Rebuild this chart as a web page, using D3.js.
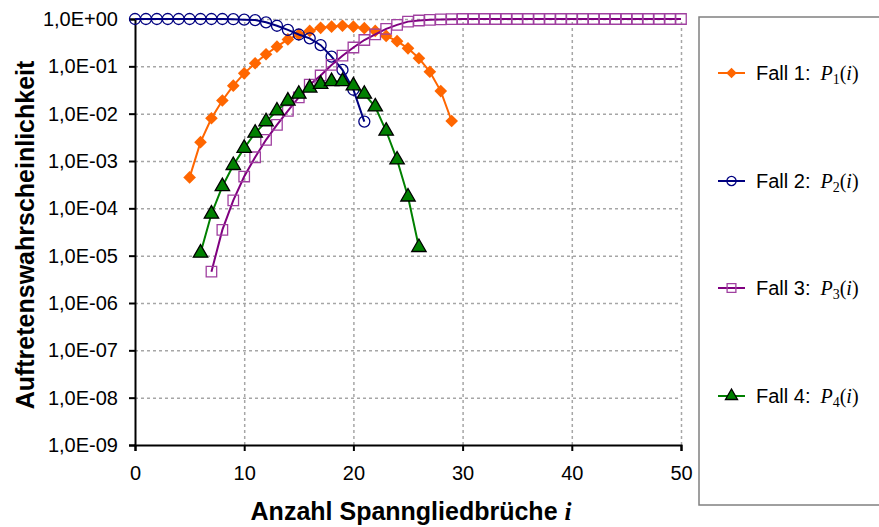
<!DOCTYPE html>
<html>
<head>
<meta charset="utf-8">
<script src="https://d3js.org/d3.v7.min.js"></script>
<style>
  body { margin: 0; background: #fff; }
  .grid line { stroke: #a6a6a6; stroke-width: 1.5; stroke-dasharray: 3,3; }
  .grid path { display: none; }
  .axis text { font-family: "Liberation Sans", Arial, sans-serif; font-size: 20px; fill: #000; }
  .axis path, .axis line { stroke: #000; stroke-width: 2; }
</style>
</head>
<body>
<div id="chart"></div>
<script>
// data
const i1 = [5,6,7,8,9,10,11,12,13,14,15,16,17,18,19,20,21,22,23,24,25,26,27,28,29];
const p1 = [4.5e-4,2.5e-3,8.0e-3,1.9e-2,3.9e-2,7.1e-2,0.116,0.18,0.26,0.37,0.47,0.56,0.65,0.69,0.72,0.69,0.64,0.56,0.44,0.34,0.24,0.148,0.077,0.030,7.0e-3];

const i2 = [0,1,2,3,4,5,6,7,8,9,10,11,12,13,14,15,16,17,18,19,20,21];
const p2 = [1,1,1,1,1,1,1,1,1,0.99,0.97,0.95,0.85,0.72,0.59,0.47,0.39,0.28,0.16,0.084,0.032,6.8e-3];

const i3 = [7,8,9,10,11,12,13,14,15,16,17,18,19,20,21,22,23,24,25,26,27,28,29,30,31,32,33,34,35,36,37,38,39,40,41,42,43,44,45,46,47,48,49,50];
const p3 = [4.6e-6,3.5e-5,1.47e-4,4.7e-4,1.2e-3,2.8e-3,5.8e-3,0.0115,0.022,0.041,0.064,0.107,0.168,0.25,0.36,0.475,0.62,0.75,0.88,0.93,0.96,0.98,0.99,1,1,1,1,1,1,1,1,1,1,1,1,1,1,1,1,1,1,1,1,1];

const i4 = [6,7,8,9,10,11,12,13,14,15,16,17,18,19,20,21,22,23,24,25,26];
const p4 = [1.14e-5,7.6e-5,2.9e-4,8.1e-4,1.87e-3,3.9e-3,6.8e-3,0.0115,0.0186,0.026,0.035,0.042,0.048,0.048,0.039,0.026,0.014,4.3e-3,1.06e-3,1.75e-4,1.5e-5];

const seriesNames = ["Fall 1:", "Fall 2:", "Fall 3:", "Fall 4:"];
const seriesSubs = ["1", "2", "3", "4"];

const xTicks = [0, 10, 20, 30, 40, 50];
const yTicks = [1e-9,1e-8,1e-7,1e-6,1e-5,1e-4,1e-3,1e-2,1e-1,1];
const yTickLabels = ["1,0E-09","1,0E-08","1,0E-07","1,0E-06","1,0E-05","1,0E-04","1,0E-03","1,0E-02","1,0E-01","1,0E+00"];

const WIDTH = 879, HEIGHT = 527;
const plot = {left: 135, right: 681, top: 19, bottom: 445};

const xScale = d3.scaleLinear().domain([0, 50]).range([plot.left, plot.right]);
const yScale = d3.scaleLog().domain([1e-9, 1]).range([plot.bottom, plot.top]);

const svg = d3.select("#chart").append("svg")
    .attr("width", WIDTH)
    .attr("height", HEIGHT);

// gridlines
svg.append("g")
    .attr("class", "grid")
    .attr("transform", "translate(0," + plot.bottom + ")")
    .call(d3.axisBottom(xScale).tickValues(xTicks.slice(1))
      .tickSize(-(plot.bottom - plot.top)).tickFormat(""));

svg.append("g")
    .attr("class", "grid")
    .attr("transform", "translate(" + plot.left + ",0)")
    .call(d3.axisLeft(yScale).tickValues(yTicks.slice(1))
      .tickSize(-(plot.right - plot.left)).tickFormat(""));

// axes
svg.append("g")
    .attr("class", "axis")
    .attr("transform", "translate(0," + plot.bottom + ")")
    .call(d3.axisBottom(xScale).tickValues(xTicks).tickSizeOuter(0)
      .tickSize(6).tickPadding(15).tickFormat(d3.format("d")));

svg.append("g")
    .attr("class", "axis")
    .attr("transform", "translate(" + plot.left + ",0)")
    .call(d3.axisLeft(yScale).tickValues(yTicks).tickSizeOuter(0)
      .tickSize(6).tickPadding(11)
      .tickFormat((d, k) => yTickLabels[k]));

// axis titles
svg.append("text")
    .attr("x", 411)
    .attr("y", 520)
    .attr("text-anchor", "middle")
    .style("font-family", "'Liberation Sans', Arial, sans-serif")
    .style("font-weight", "bold")
    .style("font-size", "25px")
    .text("Anzahl Spanngliedbrüche ")
  .append("tspan")
    .style("font-family", "'Liberation Serif', 'Times New Roman', serif")
    .style("font-style", "italic")
    .text(" i");

svg.append("text")
    .attr("transform", "translate(34,235) rotate(-90)")
    .attr("text-anchor", "middle")
    .style("font-family", "'Liberation Sans', Arial, sans-serif")
    .style("font-weight", "bold")
    .style("font-size", "25px")
    .text("Auftretenswahrscheinlichkeit");

// series
const series = [
  {xs: i1, ys: p1, color: "#ff6600", symbol: d3.symbolSquare, size: 80, rotate: 45, fill: "#ff6600", stroke: "none"},
  {xs: i2, ys: p2, color: "#000080", symbol: d3.symbolCircle, size: 95, rotate: 0, fill: "none", stroke: "#000080"},
  {xs: i3, ys: p3, color: "#800080", symbol: d3.symbolSquare, size: 110, rotate: 0, fill: "none", stroke: "#a040a0"},
  {xs: i4, ys: p4, color: "#008000", symbol: d3.symbolTriangle, size: 90, rotate: 0, fill: "#008000", stroke: "#000"}
];

const line = d3.line()
    .x(d => xScale(d[0]))
    .y(d => yScale(d[1]));

series.forEach(function(s) {
  const pts = s.xs.map((x, k) => [x, s.ys[k]]);
  const g = svg.append("g");
  g.append("path")
      .datum(pts)
      .attr("fill", "none")
      .attr("stroke", s.color)
      .attr("stroke-width", 2)
      .attr("d", line);
  g.selectAll("path.mark")
    .data(pts)
    .enter()
    .append("path")
      .attr("class", "mark")
      .attr("d", d3.symbol().type(s.symbol).size(s.size))
      .attr("transform", d => "translate(" + xScale(d[0]) + "," + yScale(d[1]) + ") rotate(" + s.rotate + ")")
      .attr("fill", s.fill)
      .attr("stroke", s.stroke)
      .attr("stroke-width", 1.3);
});

// legend box
svg.append("rect")
    .attr("x", 699)
    .attr("y", 17)
    .attr("width", 182)
    .attr("height", 488)
    .attr("fill", "none")
    .attr("stroke", "#808080")
    .attr("stroke-width", 1.5);

const legendY = [73, 181, 288, 396];
series.forEach(function(s, k) {
  const g = svg.append("g").attr("transform", "translate(0," + legendY[k] + ")");
  g.append("line")
      .attr("x1", 718).attr("x2", 745)
      .attr("stroke", s.color).attr("stroke-width", 2);
  g.append("path")
      .attr("d", d3.symbol().type(s.symbol).size(s.size * 0.7))
      .attr("transform", "translate(731.5,0) rotate(" + s.rotate + ")")
      .attr("fill", s.fill)
      .attr("stroke", s.stroke)
      .attr("stroke-width", 1.3);
  const t = g.append("text")
      .attr("x", 756)
      .attr("y", 7)
      .style("font-family", "'Liberation Sans', Arial, sans-serif")
      .style("font-size", "20px");
  t.append("tspan").text(seriesNames[k]);
  const serif = "'Liberation Serif', 'Times New Roman', serif";
  t.append("tspan").attr("dx", 10).style("font-family", serif).style("font-style", "italic").text("P");
  t.append("tspan").attr("dy", 4).style("font-family", serif).style("font-size", "14px").text(seriesSubs[k]);
  t.append("tspan").attr("dy", -4).style("font-family", serif).text("(");
  t.append("tspan").style("font-family", serif).style("font-style", "italic").text("i");
  t.append("tspan").style("font-family", serif).text(")");
});
</script>
</body>
</html>
